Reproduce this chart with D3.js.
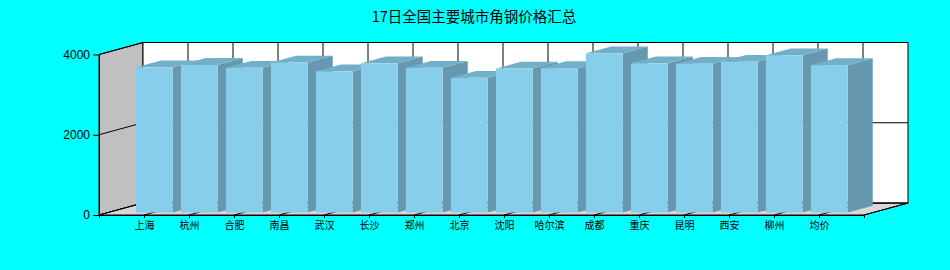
<!DOCTYPE html>
<html>
<head>
<meta charset="utf-8">
<script src="https://cdn.jsdelivr.net/npm/d3@7"></script>
<style>
  html, body { margin: 0; padding: 0; background: #00FFFF; }
  svg { display: block; }
</style>
</head>
<body>
<svg id="chart" width="950" height="270"></svg>
<script>
const title = "17日全国主要城市角钢价格汇总";
const categories = ["上海","杭州","合肥","南昌","武汉","长沙","郑州","北京","沈阳","哈尔滨","成都","重庆","昆明","西安","柳州","均价"];
const prices = [3620,3680,3610,3740,3520,3720,3610,3360,3590,3600,3970,3720,3710,3760,3920,3675];
const yTicks = [0, 2000, 4000];

const W = 950, H = 270;
const svg = d3.select("#chart");
svg.append("rect").attr("width", W).attr("height", H).attr("fill", "#00FFFF");

// 3D depth vector
const DX = 44, DY = -12;
const f0 = 0.2, f1 = 0.77;

const x = d3.scalePoint().domain(categories).range([99, 864]).padding(1);
const y = d3.scaleLinear().domain([0, 4000]).range([215, 54.5]);
const [xL, xR] = x.range();
const yB = y(0), yT = y(4000);

const g = svg.append("g");
const line = d3.line();

// Left wall
g.append("path")
  .attr("d", line([[xL, yT], [xL + DX, yT + DY], [xL + DX, yB + DY], [xL, yB]]) + "Z")
  .attr("fill", "#C0C0C0").attr("stroke", "#000").attr("stroke-width", 1);
// Floor
g.append("path")
  .attr("d", line([[xL, yB], [xL + DX, yB + DY], [xR + DX, yB + DY], [xR, yB]]) + "Z")
  .attr("fill", "#D8D8D8").attr("stroke", "#000").attr("stroke-width", 1);
// Back wall
g.append("rect")
  .attr("x", xL + DX).attr("y", yT + DY)
  .attr("width", xR - xL).attr("height", yB - yT)
  .attr("fill", "#FFFFFF").attr("stroke", "#000").attr("stroke-width", 1);

// Horizontal grid lines (back wall + left wall)
yTicks.forEach(t => {
  g.append("path")
    .attr("d", line([[xL, y(t)], [xL + DX, y(t) + DY], [xR + DX, y(t) + DY]]))
    .attr("fill", "none").attr("stroke", "#000").attr("stroke-width", 1);
});
// Vertical grid lines on back wall and floor depth lines
categories.forEach(c => {
  g.append("line")
    .attr("x1", x(c) + DX).attr("x2", x(c) + DX)
    .attr("y1", yT + DY).attr("y2", yB + DY)
    .attr("stroke", "#000").attr("stroke-width", 1);
  g.append("line")
    .attr("x1", x(c)).attr("y1", yB)
    .attr("x2", x(c) + DX).attr("y2", yB + DY)
    .attr("stroke", "#000").attr("stroke-width", 1);
});
// Right edge of floor
g.append("line")
  .attr("x1", xR).attr("y1", yB).attr("x2", xR + DX).attr("y2", yB + DY)
  .attr("stroke", "#000");

// Bars
const bw = 36.7;
const ox = DX * f0, oy = DY * f0;
const bdx = DX * (f1 - f0), bdy = DY * (f1 - f0);
const bars = g.append("g");
categories.forEach((c, i) => {
  const x0 = x(c) - bw / 2 + ox + 1.5, x1 = x0 + bw;
  const yt = y(prices[i]) + oy, yb = y(0) + oy;
  const bg = bars.append("g");
  // side
  bg.append("path")
    .attr("d", line([[x1, yt], [x1 + bdx, yt + bdy], [x1 + bdx, yb + bdy], [x1, yb]]) + "Z")
    .attr("fill", "#6699AF");
  // top
  bg.append("path")
    .attr("d", line([[x0, yt], [x0 + bdx, yt + bdy], [x1 + bdx, yt + bdy], [x1, yt]]) + "Z")
    .attr("fill", "#72B0CA");
  // front
  bg.append("rect")
    .attr("x", x0).attr("y", yt).attr("width", bw).attr("height", yb - yt)
    .attr("fill", "#87CEEB");
});

// Axes
const yAxis = g.append("g")
  .attr("transform", `translate(${xL},0)`)
  .call(d3.axisLeft(y).tickValues(yTicks).tickFormat(d3.format("d")).tickSize(6).tickSizeOuter(0).tickPadding(3));
yAxis.selectAll("text").attr("font-family", "Liberation Sans, Arial, sans-serif").attr("font-size", 12).attr("fill", "#000");
yAxis.selectAll("line,path").attr("stroke", "#000");

const xAxis = g.append("g")
  .attr("transform", `translate(0,${yB})`)
  .call(d3.axisBottom(x).tickSize(3).tickSizeOuter(3).tickPadding(4));
xAxis.selectAll("text").attr("font-family", "Noto Sans CJK SC, sans-serif").attr("font-size", 10).attr("fill", "#000");
xAxis.selectAll("line,path").attr("stroke", "#000");

// Title
svg.append("text")
  .attr("x", 474).attr("y", 22)
  .attr("text-anchor", "middle")
  .attr("font-family", "Noto Sans CJK SC, sans-serif")
  .attr("font-size", 14.5)
  .attr("fill", "#000")
  .text(title);
</script>
</body>
</html>
